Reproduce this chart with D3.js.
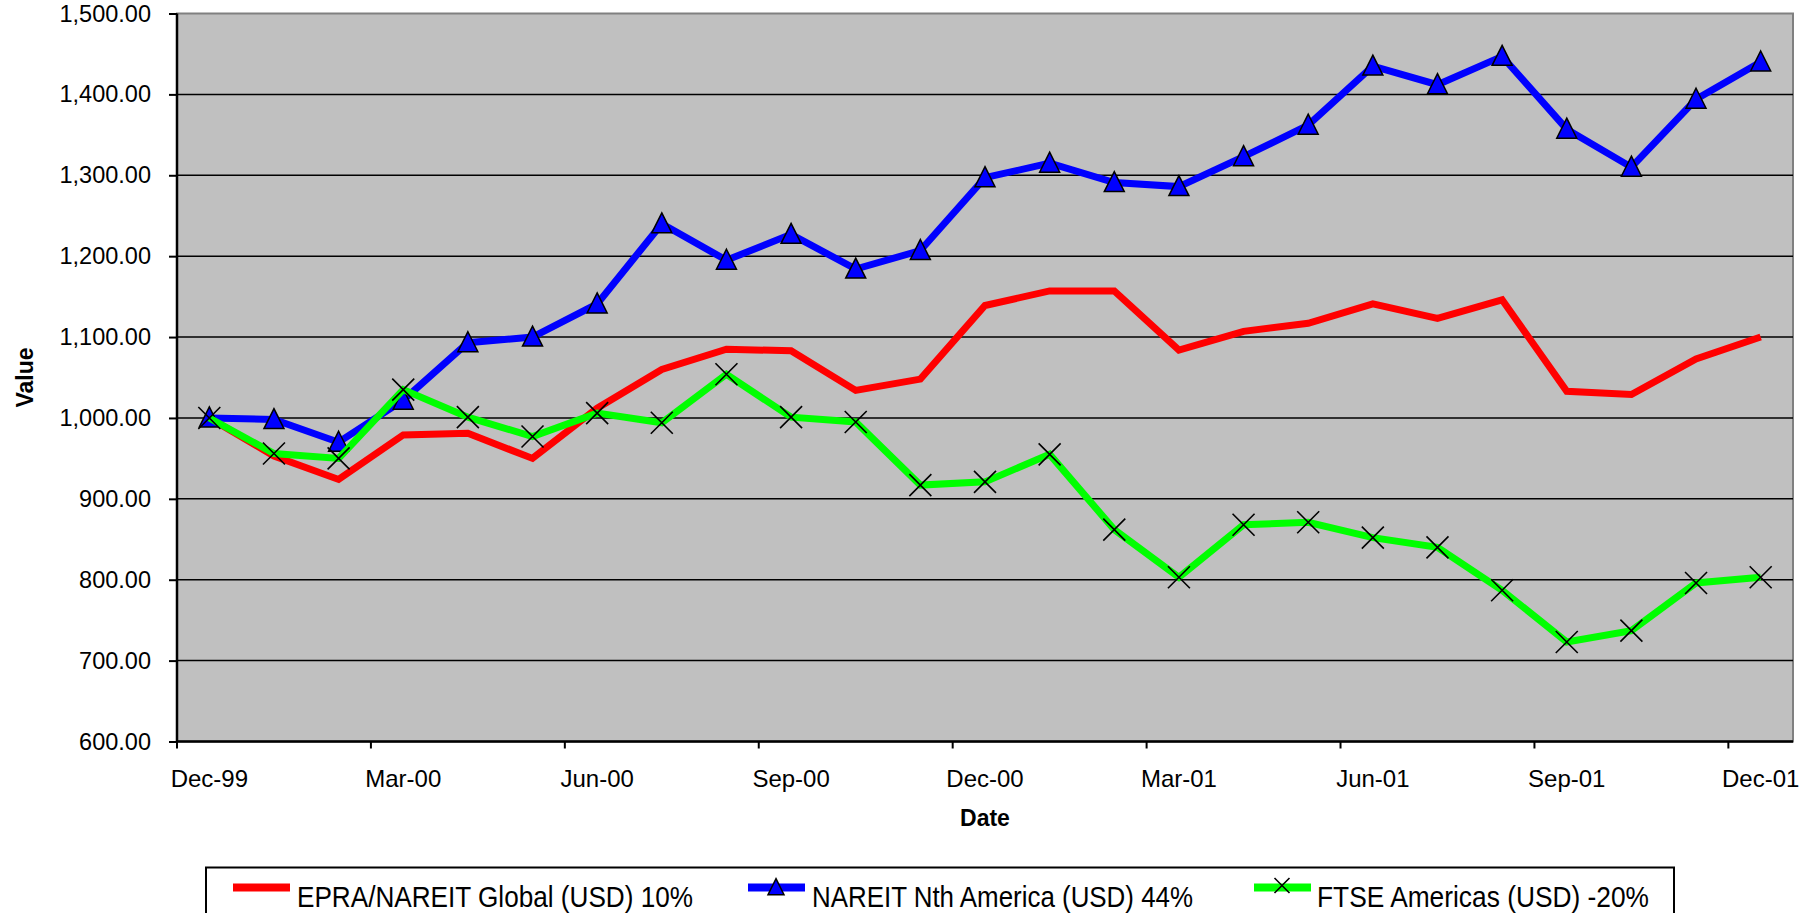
<!DOCTYPE html>
<html>
<head>
<meta charset="utf-8">
<script src="https://cdn.jsdelivr.net/npm/d3@7"></script>
<style>
body { margin: 0; background: #fff; overflow: hidden; }
text { font-family: "Liberation Sans", Arial, sans-serif; }
</style>
</head>
<body>
<div id="the_chart"></div>
<script>
var months = ["Dec-99","Jan-00","Feb-00","Mar-00","Apr-00","May-00","Jun-00","Jul-00","Aug-00","Sep-00","Oct-00","Nov-00",
	"Dec-00","Jan-01","Feb-01","Mar-01","Apr-01","May-01","Jun-01","Jul-01","Aug-01","Sep-01","Oct-01","Nov-01","Dec-01"];

var epra = [1000, 953, 924, 979, 981, 950, 1012, 1060, 1085, 1083, 1034, 1048,
	1139, 1157, 1157, 1084, 1107, 1117, 1141, 1123, 1146, 1033, 1029, 1073, 1100];
var nareit = [1000, 998, 970, 1022, 1093, 1100, 1141, 1240, 1195, 1227, 1184, 1207,
	1297, 1315, 1291, 1286, 1323, 1362, 1435, 1412, 1447, 1357, 1310, 1394, 1440];
var ftse = [1000, 956, 950, 1035, 1001, 977, 1006, 994, 1054, 1001, 995, 917,
	921, 955, 862, 803, 868, 871, 852, 840, 787, 723, 737, 796, 803];

var seriesNames = ["EPRA/NAREIT Global (USD) 10%", "NAREIT Nth America (USD) 44%", "FTSE Americas (USD) -20%"];
var yTicks = [600, 700, 800, 900, 1000, 1100, 1200, 1300, 1400, 1500];

var w = 1810, h = 913;
var pLeft = 177, pRight = 1793, pTop = 13.5, pBottom = 741.5;

var svg = d3.select("#the_chart").append("svg")
	.attr("width", w)
	.attr("height", h);

var xscale = d3.scaleBand().domain(months).range([pLeft, pRight]).padding(0);
var yscale = d3.scaleLinear().domain([600, 1500]).range([pBottom, pTop]);
var bw = xscale.bandwidth();

// plot background
svg.append("rect")
	.attr("x", pLeft).attr("y", pTop)
	.attr("width", pRight - pLeft).attr("height", pBottom - pTop)
	.attr("fill", "#c0c0c0")
	.attr("stroke", "#808080")
	.attr("stroke-width", 2);

// gridlines
svg.selectAll("line.grid")
	.data(yTicks.filter(function(d) { return d > 600 && d < 1500; }))
	.enter().append("line")
	.attr("class", "grid")
	.attr("x1", pLeft).attr("x2", pRight)
	.attr("y1", function(d) { return yscale(d); })
	.attr("y2", function(d) { return yscale(d); })
	.attr("stroke", "#000")
	.attr("stroke-width", 1.5);

// y axis
var yaxis = d3.axisLeft(yscale)
	.tickValues(yTicks)
	.tickFormat(d3.format(",.2f"))
	.tickSize(8)
	.tickPadding(18);
var gy = svg.append("g")
	.attr("transform", "translate(" + pLeft + ",0)")
	.call(yaxis);
gy.select(".domain").remove();
gy.selectAll("line").attr("stroke", "#000").attr("stroke-width", 2);
gy.selectAll("text").attr("font-size", 23.5).attr("fill", "#000")
	.style("font-family", "'Liberation Sans', Arial, sans-serif");
svg.append("line")
	.attr("x1", pLeft).attr("x2", pLeft)
	.attr("y1", pTop).attr("y2", pBottom)
	.attr("stroke", "#000").attr("stroke-width", 2.5);

// x axis: tick marks at band edges every 3 months, labels at band centres
var shown = months.filter(function(d, i) { return i % 3 == 0; });
var xaxis = d3.axisBottom(xscale)
	.tickValues(shown)
	.tickSize(7)
	.tickPadding(21);
var gx = svg.append("g")
	.attr("transform", "translate(0," + pBottom + ")")
	.call(xaxis);
gx.select(".domain").remove();
gx.selectAll("line")
	.attr("x1", -bw / 2).attr("x2", -bw / 2)
	.attr("stroke", "#000").attr("stroke-width", 2);
gx.selectAll("text").attr("font-size", 24).attr("fill", "#000")
	.style("font-family", "'Liberation Sans', Arial, sans-serif");
svg.append("line")
	.attr("x1", pLeft - 1).attr("x2", pRight)
	.attr("y1", pBottom).attr("y2", pBottom)
	.attr("stroke", "#000").attr("stroke-width", 2.5);

// axis titles
svg.append("text")
	.attr("transform", "translate(33," + ((pTop + pBottom) / 2) + ") rotate(-90)")
	.attr("text-anchor", "middle")
	.attr("font-size", 23)
	.attr("font-weight", "bold")
	.text("Value");
svg.append("text")
	.attr("x", (pLeft + pRight) / 2)
	.attr("y", 825.5)
	.attr("text-anchor", "middle")
	.attr("font-size", 23)
	.attr("font-weight", "bold")
	.text("Date");

var line = d3.line()
	.x(function(d, i) { return xscale(months[i]) + bw / 2; })
	.y(function(d) { return yscale(d); });

function triangle(g, cx, cy, s) {
	g.append("path")
		.attr("d", "M" + cx + "," + (cy - 1.1 * s) + "L" + (cx + s) + "," + (cy + 0.9 * s) + "L" + (cx - s) + "," + (cy + 0.9 * s) + "Z")
		.attr("fill", "#0000ff")
		.attr("stroke", "#000")
		.attr("stroke-width", 1.5);
}
function cross(g, cx, cy, s) {
	g.append("path")
		.attr("d", "M" + (cx - s) + "," + (cy - s) + "L" + (cx + s) + "," + (cy + s) +
			"M" + (cx + s) + "," + (cy - s) + "L" + (cx - s) + "," + (cy + s))
		.attr("stroke", "#000")
		.attr("stroke-width", 1.6)
		.attr("fill", "none");
}

// EPRA
svg.append("path")
	.datum(epra)
	.attr("d", line)
	.attr("fill", "none")
	.attr("stroke", "#ff0000")
	.attr("stroke-width", 7);

// NAREIT
svg.append("path")
	.datum(nareit)
	.attr("d", line)
	.attr("fill", "none")
	.attr("stroke", "#0000ff")
	.attr("stroke-width", 7);
var gb = svg.append("g");
nareit.forEach(function(v, i) { triangle(gb, xscale(months[i]) + bw / 2, yscale(v), 10); });

// FTSE
svg.append("path")
	.datum(ftse)
	.attr("d", line)
	.attr("fill", "none")
	.attr("stroke", "#00ff00")
	.attr("stroke-width", 7);
var gg = svg.append("g");
ftse.forEach(function(v, i) { cross(gg, xscale(months[i]) + bw / 2, yscale(v), 11); });

// legend
svg.append("rect")
	.attr("x", 206).attr("y", 867.5)
	.attr("width", 1468).attr("height", 80)
	.attr("fill", "#fff")
	.attr("stroke", "#000")
	.attr("stroke-width", 2);

var legX = [233, 748, 1254];
var legTextX = [297, 812, 1317];
var legTextW = [396, 381, 332];
var legColors = ["#ff0000", "#0000ff", "#00ff00"];
var ly = 887.5;
var gl = svg.append("g");
seriesNames.forEach(function(name, i) {
	gl.append("line")
		.attr("x1", legX[i]).attr("x2", legX[i] + 57)
		.attr("y1", ly).attr("y2", ly)
		.attr("stroke", legColors[i])
		.attr("stroke-width", 8);
	if (i == 1) triangle(gl, legX[i] + 28, ly, 8);
	if (i == 2) cross(gl, legX[i] + 28, ly - 2, 7.5);
	gl.append("text")
		.attr("x", legTextX[i])
		.attr("y", 906.5)
		.attr("font-size", 29)
		.attr("textLength", legTextW[i])
		.attr("lengthAdjust", "spacingAndGlyphs")
		.text(name);
});
</script>
</body>
</html>
